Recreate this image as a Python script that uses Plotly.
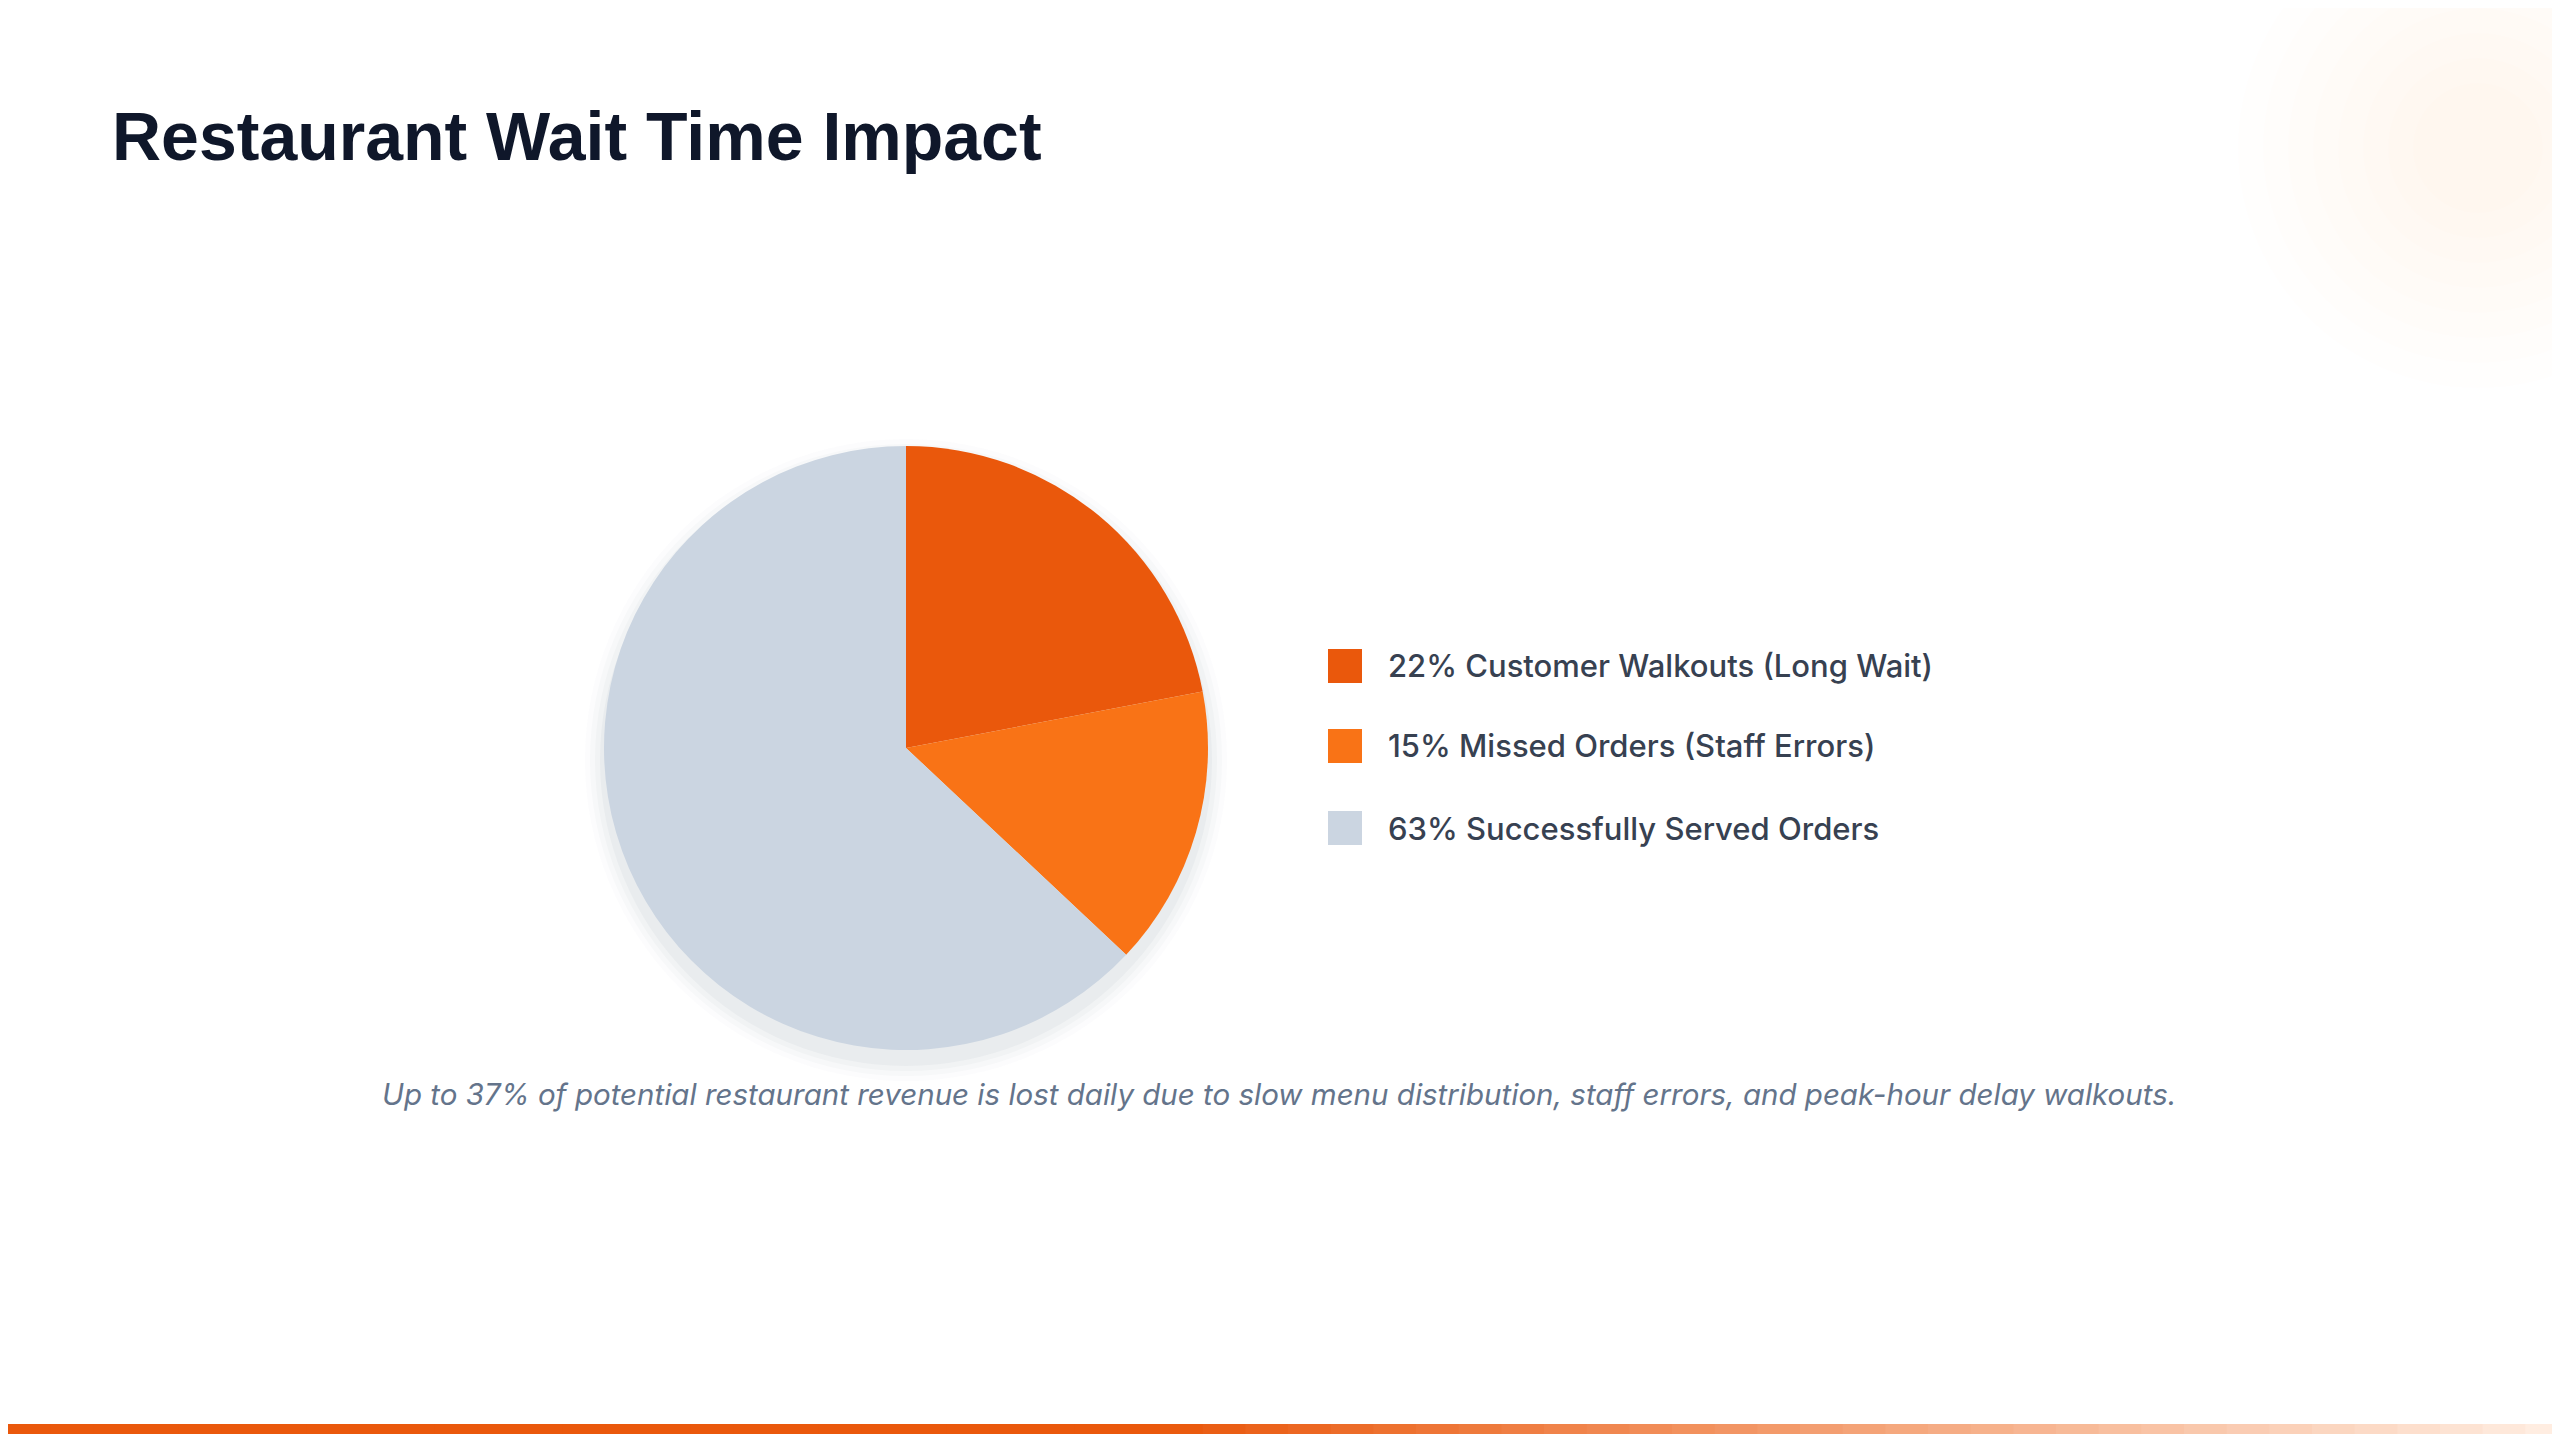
import plotly.graph_objects as go

# Data
labels = ["Customer Walkouts (Long Wait)", "Missed Orders (Staff Errors)", "Successfully Served Orders"]
values = [22, 15, 63]
colors = ["#EA580C", "#F97316", "#CBD5E1"]

W, H = 2560, 1440
DX, DY = -8, -8  # compensate page margin
fig = go.Figure()

fig.add_trace(go.Pie(
    labels=labels,
    values=values,
    marker=dict(colors=colors, line=dict(width=0)),
    sort=False,
    direction="clockwise",
    rotation=0,
    textinfo="none",
    hoverinfo="label+percent",
    showlegend=False,
    domain=dict(x=[(604 + DX) / W, (1208 + DX) / W], y=[1 - (1050 + DY) / H, 1 - (446 + DY) / H]),
))

shapes = []
annotations = []

# soft pie shadow
for i, a in enumerate([0.05, 0.04, 0.03, 0.02]):
    r = 302 + 4 + i * 5
    cx, cy = 906 + DX, 760 + DY
    shapes.append(dict(type="circle", xref="paper", yref="paper", layer="below",
                       x0=(cx - r) / W, x1=(cx + r) / W,
                       y0=1 - (cy + r) / H, y1=1 - (cy - r) / H,
                       fillcolor=f"rgba(100,116,139,{a})", line=dict(width=0)))

# top-right glow (subtle)
for i in range(8):
    r = 240 - i * 25
    shapes.append(dict(type="circle", xref="paper", yref="paper", layer="below",
                       x0=(2470 - r) / W, x1=(2470 + r) / W,
                       y0=1 - (140 + r) / H, y1=1 - (140 - r) / H,
                       fillcolor="rgba(249,115,22,0.008)", line=dict(width=0)))

# bottom gradient bar
n = 60
for i in range(n):
    t = i / (n - 1)
    fade = max(0.0, (t - 0.45) / 0.55)
    r = int(234 + (255 - 234) * fade)
    g = int(88 + (237 - 88) * fade)
    b = int(12 + (225 - 12) * fade)
    shapes.append(dict(type="rect", xref="paper", yref="paper",
                       x0=i / n, x1=(i + 1) / n + 0.001, y0=14 / H, y1=24 / H,
                       fillcolor=f"rgb({r},{g},{b})", line=dict(width=0)))

# custom legend
legend_y = [666, 746, 828]
for lab, val, col, yy in zip(labels, values, colors, legend_y):
    yy = yy + DY
    shapes.append(dict(type="rect", xref="paper", yref="paper",
                       x0=(1328 + DX) / W, x1=(1362 + DX) / W, y0=1 - (yy + 17) / H, y1=1 - (yy - 17) / H,
                       fillcolor=col, line=dict(width=0)))
    annotations.append(dict(text=f"{val}% {lab}", xref="paper", yref="paper",
                            x=(1386 + DX) / W, y=1 - yy / H, xanchor="left", yanchor="middle",
                            showarrow=False,
                            font=dict(family="Inter", size=31, color="#374151", weight=500)))

annotations.append(dict(text="Restaurant Wait Time Impact", xref="paper", yref="paper",
                        x=(110 + DX) / W, y=1 - (136 + DY) / H, xanchor="left", yanchor="middle", showarrow=False,
                        font=dict(family="Liberation Sans", size=68, color="#0F172A", weight="bold")))
annotations.append(dict(text="<i>Up to 37% of potential restaurant revenue is lost daily due to slow menu distribution, staff errors, and peak-hour delay walkouts.</i>",
                        xref="paper", yref="paper", x=(1279 + DX) / W, y=1 - (1094 + DY) / H,
                        xanchor="center", yanchor="middle", showarrow=False,
                        font=dict(family="Inter", size=29.5, color="#64748B")))

fig.update_layout(
    width=W, height=H,
    margin=dict(l=0, r=0, t=0, b=0),
    paper_bgcolor="white", plot_bgcolor="white",
    shapes=shapes, annotations=annotations,
)

fig.write_html("out.html")
